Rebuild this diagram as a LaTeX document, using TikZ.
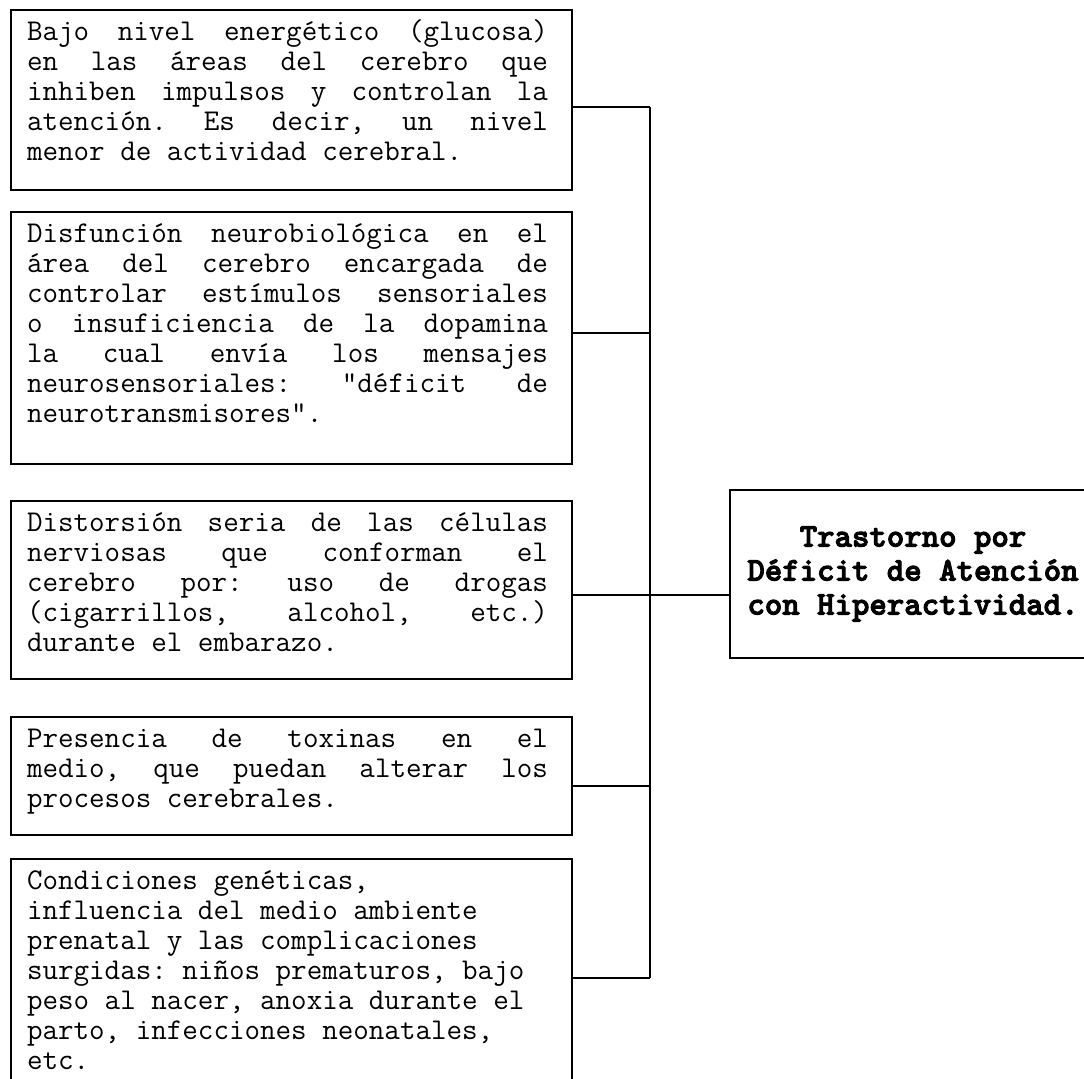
\documentclass[tikz,border=0pt]{standalone}
\usepackage{fontspec}
\newfontfamily\titulofont{lmmonolt10-bold.otf}[FakeBold=3]
\newcommand\letracaja{\ttfamily\fontsize{15.09pt}{15pt}\selectfont\frenchspacing\fontdimen3\font=12pt\fontdimen4\font=0pt\relax}
\newcommand\letratitulo{\titulofont\fontsize{16.6pt}{17pt}\selectfont}
\newcommand\textocaja[2]{\parbox[c][#1][t]{264.5pt}{\tolerance=10000\rightskip=4pt\strut #2}}
\newcommand\textocajaizq[2]{\parbox[c][#1][t]{264.5pt}{\raggedright\strut #2}}
\hbadness=10000
\begin{document}
\begin{tikzpicture}[x=0.5pt,y=-0.5pt,line width=1pt,
				caja/.style={draw,anchor=north west,inner xsep=8pt,inner ysep=5pt,font=\letracaja},
				trastorno/.style={draw,anchor=north west,inner sep=0pt,minimum width=183pt,
				minimum height=84pt,align=center,font=\letratitulo}]
				\def\bus{650}
				\useasboundingbox (0,0) rectangle (1084,1079);
				\node[caja] (glucosa) at (10,9) {\textocaja{80pt}{Bajo nivel energético (glucosa)\linebreak
				en las áreas del cerebro que\linebreak
				inhiben impulsos y controlan la\linebreak
				atención. Es decir, un nivel\linebreak
				menor de actividad cerebral.}};
				\node[caja] (dopamina) at (10,211) {\textocaja{116pt}{Disfunción neurobiológica en el\linebreak
				área del cerebro encargada de\linebreak
				controlar estímulos sensoriales\linebreak
				o insuficiencia de la dopamina\linebreak
				la cual envía los mensajes\linebreak
				neurosensoriales: “déficit de\linebreak
				neurotransmisores”.}};
				\node[caja] (drogas) at (10,500) {\textocaja{79pt}{Distorsión seria de las células\linebreak
				nerviosas que conforman el\linebreak
				cerebro por: uso de drogas\linebreak
				(cigarrillos, alcohol, etc.)\linebreak
				durante el embarazo.}};
				\node[caja] (toxinas) at (10,716) {\textocaja{49pt}{Presencia de toxinas en el\linebreak
				medio, que puedan alterar los\linebreak
				procesos cerebrales.}};
				\node[caja] (genetica) at (10,858) {\textocajaizq{111pt}{Condiciones genéticas,\\
				influencia del medio ambiente\\
				prenatal y las complicaciones\\
				surgidas: niños prematuros, bajo\\
				peso al nacer, anoxia durante el\\
				parto, infecciones neonatales,\\
				etc.}};
				\node[trastorno] (tdah) at (729,489) {Trastorno por\\Déficit de Atención\\con Hiperactividad.};
				\path (\bus,107) coordinate (j1)
				(\bus,333) coordinate (j2)
				(\bus,595) coordinate (j3)
				(\bus,786) coordinate (j4)
				(\bus,978) coordinate (j5);
				\draw (j1)--(j5);
				\draw (glucosa.east|-j1)--(j1) (dopamina.east|-j2)--(j2)
				(drogas.east|-j3)--(j3) (toxinas.east|-j4)--(j4)
				(genetica.east|-j5)--(j5);
				\draw (j3)--(tdah.west|-j3);
			\end{tikzpicture}
\end{document}
